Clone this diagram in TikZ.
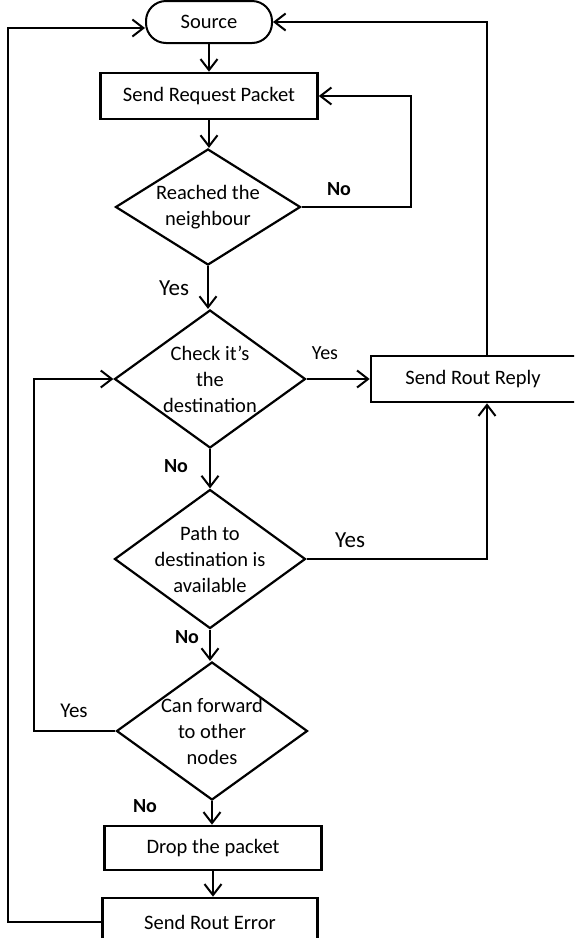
\documentclass[tikz,border=0pt]{standalone}
\usepackage{fontspec}
\setmainfont{Carlito}
\usetikzlibrary{arrows.meta,shapes.geometric}
\begin{document}
\begin{tikzpicture}[x=1pt,y=-1pt,
  every node/.style={font=\fontsize{20.5}{26}\selectfont},
  box/.style={draw, line width=2.6pt, minimum width=#1, minimum height=46pt, inner sep=0pt},
  term/.style={draw, line width=2pt, rounded corners=20pt, minimum width=126pt, minimum height=42pt, inner sep=0pt},
  dia/.style={draw, shape=diamond, line width=2.2pt, minimum width=191pt, minimum height=138pt, inner sep=0pt},
  txt/.style={align=center, inner sep=0pt},
  yeslbl/.style={inner sep=0pt, font=\fontsize{23}{26}\selectfont},
  nolbl/.style={inner sep=0pt, font=\fontsize{20}{24}\selectfont\bfseries},
  conn/.style={line width=2pt, -{Straight Barb[length=11pt,width=17pt,line width=2pt]}},
  wire/.style={line width=2pt}]
\clip (0,0) rectangle (574,938);
\fill[white] (0,0) rectangle (574,938);

% nodes
\node[term] (src) at (209,22) {Source};
\node[box=217pt] (srp) at (209,96) {Send Request Packet};
\node[dia, minimum width=185pt, minimum height=116pt] (reach) at (208,207) {};
\node[txt] (reachT) at (reach) {Reached the\\neighbour};
\node[dia] (check) at (210,379) {};
\node[txt] (checkT) at (check) {Check it’s\\the\\destination};
\node[box=212pt] (srr) at (477,379) {};
\node (srrT) at (473,379) {Send Rout Reply};
\node[dia, minimum height=139pt] (path) at (210,559) {};
\node[txt] (pathT) at (path) {Path to\\destination is\\available};
\node[dia] (can) at (212,731) {};
\node[txt] (canT) at (can) {Can forward\\to other\\nodes};
\node[box=217pt, minimum height=44pt] (drop) at (213,848) {Drop the packet};
\node[box=215pt, minimum height=48pt] (sre) at (210,922) {Send Rout Error};

% labels
\node[nolbl] (l1) at (339,189) {No};
\node[yeslbl] (l2) at (174,288) {Yes};
\node[yeslbl, font=\fontsize{20}{24}\selectfont] (l3) at (325,353) {Yes};
\node[nolbl] (l4) at (176,466) {No};
\node[yeslbl] (l5) at (350,540) {Yes};
\node[nolbl] (l6) at (187,637) {No};
\node[yeslbl, font=\fontsize{21}{24}\selectfont] (l7) at (74,711) {Yes};
\node[nolbl] (l8) at (145,806) {No};

% coordinates for loops
\coordinate (nloop) at (411,207);
\coordinate (lloop) at (34,731);
\coordinate (outer) at (8,922);
\coordinate (srcL) at ([yshift=-6pt]src.west);
\coordinate (srrTop) at (487,379);

% connectors
\draw[conn] (src.south) -- (src.south |- srp.north);
\draw[conn] (srp.south) -- (srp.south |- reach.north);
\draw[conn] (reach.east) -- (nloop) |- (srp.east);
\draw[conn] (reach.south) -- (reach.south |- check.north);
\draw[conn] (check.east) -- (srr.west);
\draw[conn] (srrTop |- srr.north) |- (src.east);
\draw[conn] (check.south) -- (check.south |- path.north);
\draw[conn] (path.east) -| (srrTop |- srr.south);
\draw[conn] (path.south) -- (path.south |- can.north);
\draw[conn] (can.west) -- (lloop) |- (check.west);
\draw[conn] (can.south) -- (can.south |- drop.north);
\draw[conn] (drop.south) -- (drop.south |- sre.north);
\draw[conn] (sre.west) -- (outer) |- (srcL);
\end{tikzpicture}
\end{document}
